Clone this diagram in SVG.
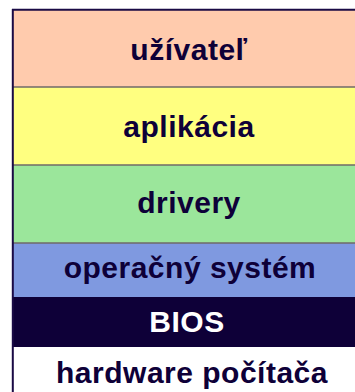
<svg xmlns="http://www.w3.org/2000/svg" width="355" height="392" viewBox="0 0 355 392">
<style>
.t{font-family:"Liberation Sans",Arial,sans-serif;font-weight:bold;font-size:30px;letter-spacing:0.5px;text-anchor:middle;fill:#0e0038}
.sep{stroke:#6f6a68;stroke-width:1.5}
</style>
<rect width="355" height="392" fill="#ffffff"/>
<g id="uzivatel"><rect x="12" y="10" width="360" height="77" fill="#ffcbad"/><text class="t" x="189" y="60">užívateľ</text></g>
<g id="aplikacia"><rect x="12" y="87" width="360" height="78" fill="#ffff80"/><text class="t" x="189" y="137">aplikácia</text></g>
<g id="drivery"><rect x="12" y="165" width="360" height="78" fill="#9be69b"/><text class="t" x="189" y="213">drivery</text></g>
<g id="os"><rect x="12" y="243" width="360" height="54" fill="#7f99e0"/><text class="t" x="190" y="278">operačný systém</text></g>
<g id="bios"><rect x="12" y="297" width="360" height="50" fill="#0e0038"/><text class="t" x="187" y="332" style="fill:#ffffff">BIOS</text></g>
<g id="hardware"><text class="t" x="192" y="383">hardware počítača</text></g>
<g id="lines">
<line class="sep" x1="12" y1="87" x2="355" y2="87" stroke="#9a7f72"/>
<line class="sep" x1="12" y1="165" x2="355" y2="165"/>
<line class="sep" x1="12" y1="243" x2="355" y2="243"/>
<line x1="12" y1="9.8" x2="355" y2="9.8" stroke="#1a0a45" stroke-width="2"/>
<line x1="12.8" y1="9" x2="12.8" y2="392" stroke="#1a0a45" stroke-width="2"/>
</g>
</svg>
